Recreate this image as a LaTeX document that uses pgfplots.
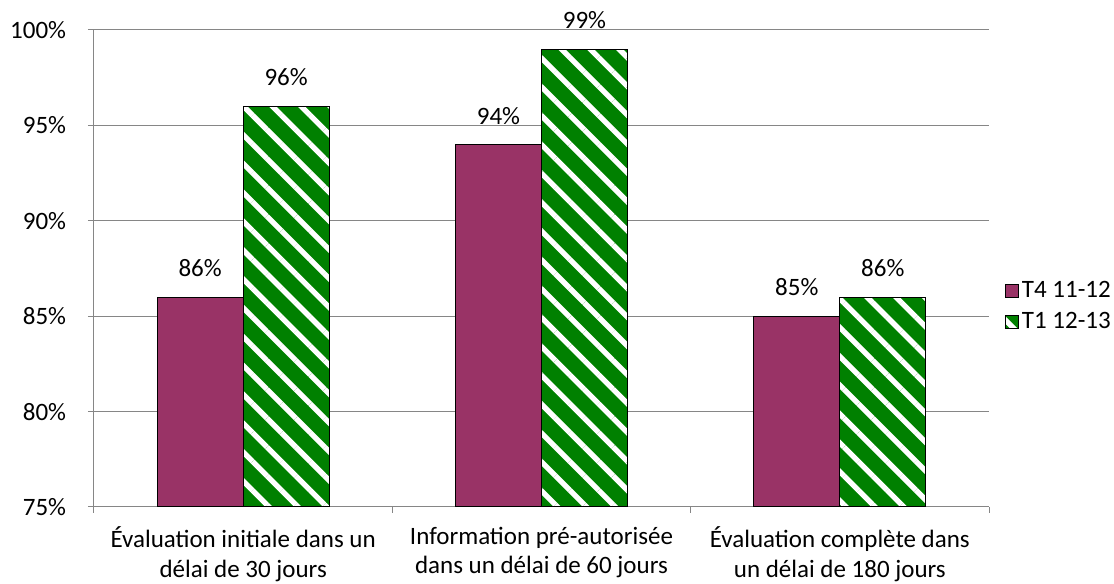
\documentclass[border=0pt]{standalone}
\usepackage{fontspec}
\setmainfont{Carlito}
\usepackage{pgfplots}
\pgfplotsset{compat=1.18}
\usetikzlibrary{patterns.meta}
\definecolor{barmaroon}{RGB}{153,51,102}
\definecolor{bargreen}{RGB}{0,128,0}
\definecolor{gridgray}{RGB}{134,134,134}

\pgfplotsset{
  sqlegend/.style={legend image code/.code={%
    \draw[##1,draw=black,line width=0.75pt] (0pt,-5pt) rectangle (10pt,5pt);}},
}

\begin{document}
\fontsize{18.75pt}{22pt}\selectfont
\begin{tikzpicture}[x=1pt,y=1pt]
\useasboundingbox (-70.5,-57.75) rectangle (765,380.25);
\begin{axis}[
    at={(0,0)}, anchor=south west,
    scale only axis,
    width=671.25pt, height=357.75pt,
    ybar=0pt, bar width=64.5pt,
    xmin=-0.5, xmax=2.5,
    ymin=75, ymax=100,
    axis lines*=left,
    axis line style={gridgray, line width=0.75pt},
    tick align=outside,
    ytick={75,80,85,90,95,100},
    yticklabel={\pgfmathprintnumber{\tick}\%},
    yticklabel style={xshift=-10pt},
    ymajorgrids=true,
    grid style={gridgray, line width=0.75pt},
    major tick length=4.5pt,
    minor tick length=4.5pt,
    tick style={gridgray, line width=0.75pt},
    xtick={0,1,2},
    major x tick style={draw=none},
    minor xtick={-0.5,0.5,1.5,2.5},
    xticklabels={{Évaluation initiale dans un\\délai de 30 jours},
                 {Information pré-autorisée\\dans un délai de 60 jours},
                 {Évaluation complète dans\\un délai de 180 jours}},
    xticklabel style={align=center, text depth=0pt, yshift=-4pt},
    /pgf/number format/assume math mode=true,
    nodes near coords={\pgfmathprintnumber{\pgfplotspointmeta}\%},
    point meta=y,
    every node near coord/.append style={black, yshift=8.5pt},
    legend style={draw=none, fill=none, at={(1.013,0.42)}, anchor=west,
                  row sep=4pt, cells={anchor=west}},
]
\addplot[sqlegend, fill=barmaroon, draw=black, line width=0.75pt]
  coordinates {(0,86) (1,94) (2,85)};
\addplot[sqlegend, fill=bargreen, draw=black, line width=0.75pt,
  postaction={pattern={Lines[angle=-45,distance=15.3pt,line width=4pt]},
              pattern color=white}]
  coordinates {(0,96) (1,99) (2,86)};
\legend{T4 11-12, T1 12-13}
\end{axis}
\end{tikzpicture}
\end{document}
